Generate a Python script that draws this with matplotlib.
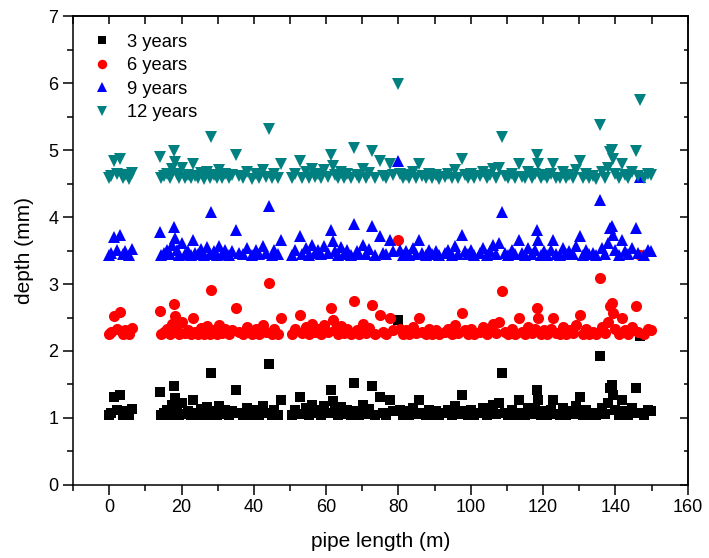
import matplotlib
matplotlib.use("Agg")
import matplotlib.pyplot as plt
from matplotlib.ticker import MultipleLocator

plt.rcParams['font.family'] = ['Liberation Sans', 'DejaVu Sans']

# Positions along the pipe (m), shared by all inspections
pipe_length = [
    0.0, 0.4, 1.4, 2.2, 3.0, 3.8, 4.4, 5.4, 6.3,
    14.0, 14.4, 15.2, 16.0, 16.8, 17.4, 18.0, 18.3, 18.7, 19.4, 20.1, 20.9, 21.7, 22.5, 23.1,
    23.8, 24.6, 25.5, 26.3, 27.1, 27.8, 28.2, 28.9, 29.7, 30.5, 31.3, 32.1, 33.0, 34.0, 35.2,
    35.9, 36.9, 38.1, 39.4, 40.6, 41.5, 42.5, 43.3, 44.2, 44.9, 45.7, 46.6, 47.5,
    50.6, 51.5, 52.7, 53.4, 54.3, 55.2, 56.0, 56.9, 57.8, 58.6, 59.5, 60.4, 61.4, 61.9, 62.5,
    63.3, 64.2, 65.0, 65.9, 66.8, 67.8, 68.4, 69.2, 70.1, 71.0, 71.9, 72.8, 73.6, 74.9, 75.6,
    76.5, 77.7, 78.5, 79.8, 80.4, 81.2,
    82.1, 83.0, 84.0, 84.9, 85.8, 86.6, 87.5, 88.4, 89.3, 90.3, 91.2, 93.0, 93.8, 94.7, 95.6,
    96.5, 97.5, 98.3, 99.2, 100.1, 101.0, 102.6, 103.5, 104.4, 105.3, 106.2, 107.0, 107.8,
    108.7, 109.5, 110.4, 111.3, 112.3, 113.2, 114.1, 115.0, 115.9, 116.8, 117.7, 118.3, 118.6,
    119.4, 120.3,
    121.2, 122.1, 122.8, 123.7, 124.6, 125.5, 126.4, 127.3, 128.2, 129.1, 130.3, 131.0, 131.9,
    132.8, 133.7, 134.6, 135.8, 136.4, 137.2, 138.0, 138.5, 139.0, 139.3, 140.0, 140.9, 141.8,
    142.7, 143.6, 144.5, 145.6, 146.2, 146.8, 148.0, 148.9, 149.8,
]

depth_3y = [
    1.05, 1.08, 1.31, 1.12, 1.34, 1.05, 1.10, 1.05, 1.13,
    1.38, 1.05, 1.08, 1.12, 1.05, 1.20, 1.47, 1.30, 1.12, 1.05, 1.22, 1.06, 1.10, 1.05, 1.27,
    1.08, 1.05, 1.13, 1.05, 1.16, 1.05, 1.67, 1.10, 1.05, 1.18, 1.06, 1.12, 1.05, 1.10, 1.42,
    1.08, 1.05, 1.15, 1.05, 1.12, 1.05, 1.18, 1.07, 1.80, 1.05, 1.12, 1.05, 1.27,
    1.05, 1.12, 1.32, 1.06, 1.15, 1.05, 1.20, 1.07, 1.12, 1.05, 1.18, 1.07, 1.42, 1.25, 1.10,
    1.05, 1.16, 1.06, 1.12, 1.05, 1.52, 1.10, 1.05, 1.20, 1.06, 1.13, 1.47, 1.05, 1.32, 1.08,
    1.05, 1.27, 1.10, 2.46, 1.12, 1.05,
    1.10, 1.05, 1.15, 1.06, 1.27, 1.08, 1.05, 1.12, 1.05, 1.10, 1.05, 1.07, 1.12, 1.05, 1.18,
    1.06, 1.34, 1.10, 1.05, 1.12, 1.05, 1.08, 1.15, 1.05, 1.10, 1.20, 1.06, 1.22,
    1.67, 1.08, 1.05, 1.12, 1.05, 1.27, 1.07, 1.05, 1.15, 1.06, 1.12, 1.42, 1.27,
    1.05, 1.10,
    1.05, 1.12, 1.27, 1.06, 1.05, 1.15, 1.05, 1.10, 1.06, 1.18, 1.32, 1.05, 1.12,
    1.05, 1.08, 1.05, 1.93, 1.15, 1.06, 1.22, 1.45, 1.49, 1.34, 1.12, 1.05, 1.27,
    1.10, 1.05, 1.15, 1.45, 1.08, 2.22, 1.05, 1.12, 1.10,
]

depth_6y = [
    2.25, 2.28, 2.52, 2.33, 2.58, 2.26, 2.31, 2.25, 2.34,
    2.60, 2.25, 2.28, 2.33, 2.26, 2.41, 2.70, 2.52, 2.32, 2.25, 2.43, 2.27, 2.31, 2.25, 2.49,
    2.29, 2.26, 2.34, 2.25, 2.37, 2.26, 2.91, 2.31, 2.25, 2.39, 2.27, 2.33, 2.25, 2.31, 2.64,
    2.29, 2.26, 2.36, 2.25, 2.33, 2.26, 2.39, 2.28, 3.02, 2.25, 2.33, 2.26, 2.49,
    2.25, 2.33, 2.54, 2.27, 2.36, 2.25, 2.41, 2.28, 2.33, 2.26, 2.39, 2.28, 2.64, 2.46, 2.31,
    2.25, 2.37, 2.27, 2.33, 2.26, 2.74, 2.31, 2.25, 2.41, 2.27, 2.34, 2.69, 2.26, 2.54, 2.29,
    2.25, 2.49, 2.31, 3.66, 2.33, 2.26,
    2.31, 2.25, 2.36, 2.27, 2.49, 2.29, 2.26, 2.33, 2.25, 2.31, 2.26, 2.28, 2.33, 2.25, 2.39,
    2.27, 2.56, 2.31, 2.25, 2.33, 2.26, 2.29, 2.36, 2.25, 2.31, 2.41, 2.27, 2.43,
    2.90, 2.29, 2.26, 2.33, 2.25, 2.49, 2.28, 2.26, 2.36, 2.27, 2.33, 2.64, 2.49,
    2.25, 2.31,
    2.26, 2.33, 2.49, 2.27, 2.25, 2.36, 2.26, 2.31, 2.27, 2.39, 2.54, 2.25, 2.33,
    2.26, 2.29, 2.25, 3.09, 2.36, 2.27, 2.43, 2.67, 2.71, 2.56, 2.33, 2.25, 2.49,
    2.31, 2.26, 2.36, 2.67, 2.29, 3.43, 2.25, 2.33, 2.31,
]

depth_9y = [
    3.44, 3.47, 3.70, 3.51, 3.73, 3.45, 3.49, 3.44, 3.52,
    3.77, 3.44, 3.47, 3.51, 3.45, 3.59, 3.85, 3.69, 3.51, 3.44, 3.61, 3.45, 3.49, 3.44, 3.66,
    3.47, 3.45, 3.52, 3.44, 3.55, 3.45, 4.07, 3.49, 3.44, 3.57, 3.45, 3.51, 3.44, 3.49, 3.81,
    3.47, 3.45, 3.54, 3.44, 3.51, 3.45, 3.57, 3.46, 4.17, 3.44, 3.51, 3.45, 3.66,
    3.44, 3.51, 3.71, 3.45, 3.54, 3.44, 3.59, 3.46, 3.51, 3.45, 3.57, 3.46, 3.81, 3.64, 3.49,
    3.44, 3.55, 3.45, 3.51, 3.44, 3.90, 3.49, 3.45, 3.59, 3.45, 3.52, 3.86, 3.44, 3.71, 3.47,
    3.45, 3.66, 3.49, 4.83, 3.51, 3.44,
    3.49, 3.44, 3.54, 3.45, 3.66, 3.47, 3.44, 3.51, 3.45, 3.49, 3.44, 3.46, 3.51, 3.44, 3.57,
    3.45, 3.73, 3.49, 3.45, 3.51, 3.44, 3.47, 3.54, 3.44, 3.49, 3.59, 3.45, 3.61,
    4.07, 3.47, 3.44, 3.51, 3.45, 3.66, 3.46, 3.44, 3.54, 3.45, 3.51, 3.81, 3.66,
    3.44, 3.49,
    3.44, 3.51, 3.66, 3.45, 3.44, 3.54, 3.45, 3.49, 3.45, 3.57, 3.71, 3.44, 3.51,
    3.45, 3.47, 3.44, 4.25, 3.54, 3.45, 3.61, 3.84, 3.87, 3.73, 3.51, 3.44, 3.66,
    3.49, 3.45, 3.54, 3.84, 3.47, 4.60, 3.44, 3.51, 3.49,
]

depth_12y = [
    4.58, 4.61, 4.83, 4.65, 4.86, 4.58, 4.63, 4.57, 4.66,
    4.90, 4.58, 4.61, 4.65, 4.58, 4.72, 4.98, 4.82, 4.65, 4.58, 4.74, 4.59, 4.63, 4.58, 4.79,
    4.61, 4.58, 4.66, 4.57, 4.68, 4.58, 5.20, 4.63, 4.58, 4.70, 4.59, 4.65, 4.58, 4.63, 4.93,
    4.61, 4.58, 4.67, 4.57, 4.65, 4.58, 4.70, 4.60, 5.32, 4.58, 4.65, 4.58, 4.79,
    4.58, 4.65, 4.84, 4.59, 4.67, 4.58, 4.72, 4.60, 4.65, 4.58, 4.70, 4.60, 4.93, 4.77, 4.63,
    4.58, 4.68, 4.59, 4.65, 4.58, 5.03, 4.63, 4.58, 4.72, 4.59, 4.66, 4.98, 4.58, 4.84, 4.61,
    4.58, 4.79, 4.63, 5.98, 4.65, 4.58,
    4.63, 4.58, 4.67, 4.59, 4.79, 4.61, 4.58, 4.65, 4.58, 4.63, 4.57, 4.60, 4.65, 4.58, 4.70,
    4.59, 4.86, 4.63, 4.58, 4.65, 4.58, 4.61, 4.67, 4.58, 4.63, 4.72, 4.59, 4.74,
    5.20, 4.61, 4.58, 4.65, 4.58, 4.79, 4.60, 4.58, 4.67, 4.59, 4.65, 4.93, 4.79,
    4.58, 4.63,
    4.58, 4.65, 4.79, 4.59, 4.58, 4.67, 4.58, 4.63, 4.59, 4.70, 4.84, 4.58, 4.65,
    4.58, 4.61, 4.57, 5.38, 4.67, 4.59, 4.74, 4.97, 5.00, 4.86, 4.65, 4.58, 4.79,
    4.63, 4.58, 4.67, 4.98, 4.61, 5.75, 4.58, 4.65, 4.63,
]

series_labels = ["3 years", "6 years", "9 years", "12 years"]

fig = plt.figure(figsize=(7.09, 5.58), dpi=100)
ax = fig.add_axes([0.103, 0.131, 0.867, 0.840])

styles = [
    dict(marker='s', color='black', markersize=6.8),
    dict(marker='o', color='#FF0000', markersize=8.0),
    dict(marker='^', color='#0000FF', markersize=9.0),
    dict(marker='v', color='#008080', markersize=9.0),
]
for ys, lab, st in zip([depth_3y, depth_6y, depth_9y, depth_12y], series_labels, styles):
    ax.plot(pipe_length, ys, linestyle='none', markeredgewidth=0,
            label=lab, **st)

ax.set_xlim(-10, 160)
ax.set_ylim(0, 7)
ax.xaxis.set_major_locator(MultipleLocator(20))
ax.xaxis.set_minor_locator(MultipleLocator(10))
ax.yaxis.set_major_locator(MultipleLocator(1))
ax.yaxis.set_minor_locator(MultipleLocator(0.5))

for sp in ax.spines.values():
    sp.set_linewidth(1.1)

ax.tick_params(which='major', direction='out', length=7, width=1.1, labelsize=13,
               colors='black')
ax.tick_params(which='minor', direction='out', length=4, width=1.1)

# Inward ticks on the top and right edges, without labels
top = ax.secondary_xaxis('top')
top.xaxis.set_major_locator(MultipleLocator(20))
top.xaxis.set_minor_locator(MultipleLocator(10))
top.tick_params(which='both', direction='in', length=6, width=1.1, labeltop=False)
top.spines['top'].set_linewidth(1.1)
right = ax.secondary_yaxis('right')
right.yaxis.set_major_locator(MultipleLocator(1))
right.yaxis.set_minor_locator(MultipleLocator(0.5))
right.tick_params(which='major', direction='in', length=6, width=1.1, labelright=False)
right.tick_params(which='minor', direction='in', length=3, width=1.1)
right.spines['right'].set_linewidth(1.1)

ax.set_xlabel("pipe length (m)", fontsize=15, labelpad=11)
ax.set_ylabel("depth (mm)", fontsize=15, labelpad=10)

ax.legend(loc='upper left', bbox_to_anchor=(0.005, 0.998), frameon=False,
          fontsize=13.2, handlelength=1.0, handletextpad=0.9, labelspacing=0.36,
          borderaxespad=0.5, markerscale=0.85)

fig.savefig("out.png", dpi=100)
